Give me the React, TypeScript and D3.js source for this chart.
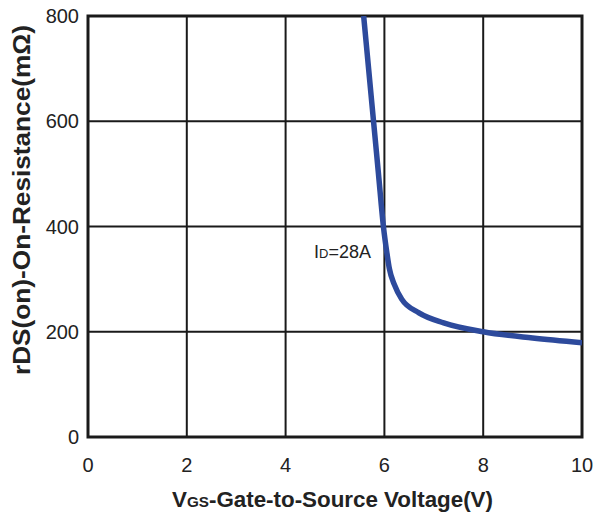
import React from "react";
import * as d3 from "d3";

const vgs = [5.58, 5.68, 5.78, 5.88, 5.98, 6.05, 6.1, 6.2, 6.35, 6.7, 7.2, 8.0, 9.0, 10.0];
const rds = [800, 700, 600, 500, 400, 350, 320, 290, 262, 236, 217, 200, 188, 179];
const xTicks = [0, 2, 4, 6, 8, 10];
const yTicks = [0, 200, 400, 600, 800];

const W = 595, H = 512;
const left = 88, right = 582, top = 16, bottom = 437;

export default function App() {
  const x = d3.scaleLinear().domain([0, 10]).range([left, right]);
  const y = d3.scaleLinear().domain([0, 800]).range([bottom, top]);
  const pts: [number, number][] = vgs.map((v, i) => [v, rds[i]]);
  const line = d3.line<[number, number]>().x(d => x(d[0])).y(d => y(d[1])).curve(d3.curveMonotoneX);
  const font = "Liberation Sans, Arial, sans-serif";
  return (
    <svg width={W} height={H} style={{ position: "absolute", left: 0, top: 0, background: "#fff" }} fontFamily={font}>
      <defs>
        <clipPath id="clip"><rect x={left} y={top} width={right - left} height={bottom - top} /></clipPath>
      </defs>
      {xTicks.map(t => (
        <line key={"gx" + t} x1={x(t)} x2={x(t)} y1={top} y2={bottom} stroke="#1a1a1a" strokeWidth={2} />
      ))}
      {yTicks.map(t => (
        <line key={"gy" + t} x1={left} x2={right} y1={y(t)} y2={y(t)} stroke="#1a1a1a" strokeWidth={2} />
      ))}
      <rect x={left} y={top} width={right - left} height={bottom - top} fill="none" stroke="#1a1a1a" strokeWidth={3} />
      <path d={line(pts) || ""} fill="none" stroke="#2d4a9c" strokeWidth={5.5} clipPath="url(#clip)" strokeLinecap="butt" />
      {xTicks.map(t => (
        <text key={"tx" + t} x={x(t)} y={472} textAnchor="middle" fontSize={20} fill="#222">{t}</text>
      ))}
      {yTicks.map(t => (
        <text key={"ty" + t} x={79} y={y(t) + 7} textAnchor="end" fontSize={20} fill="#222">{t}</text>
      ))}
      <text x={314} y={258} fontSize={18} fill="#222">I<tspan fontSize={13}>D</tspan>=28A</text>
      <text x={172} y={507} fontSize={22} fontWeight="bold" fill="#222" textLength={321} lengthAdjust="spacingAndGlyphs">
        V<tspan fontSize={15}>GS</tspan>-Gate-to-Source Voltage(V)
      </text>
      <text transform="translate(30,375) rotate(-90)" fontSize={23} fontWeight="bold" fill="#222" textLength={350} lengthAdjust="spacingAndGlyphs">
        rDS(on)-On-Resistance(mΩ)
      </text>
    </svg>
  );
}
